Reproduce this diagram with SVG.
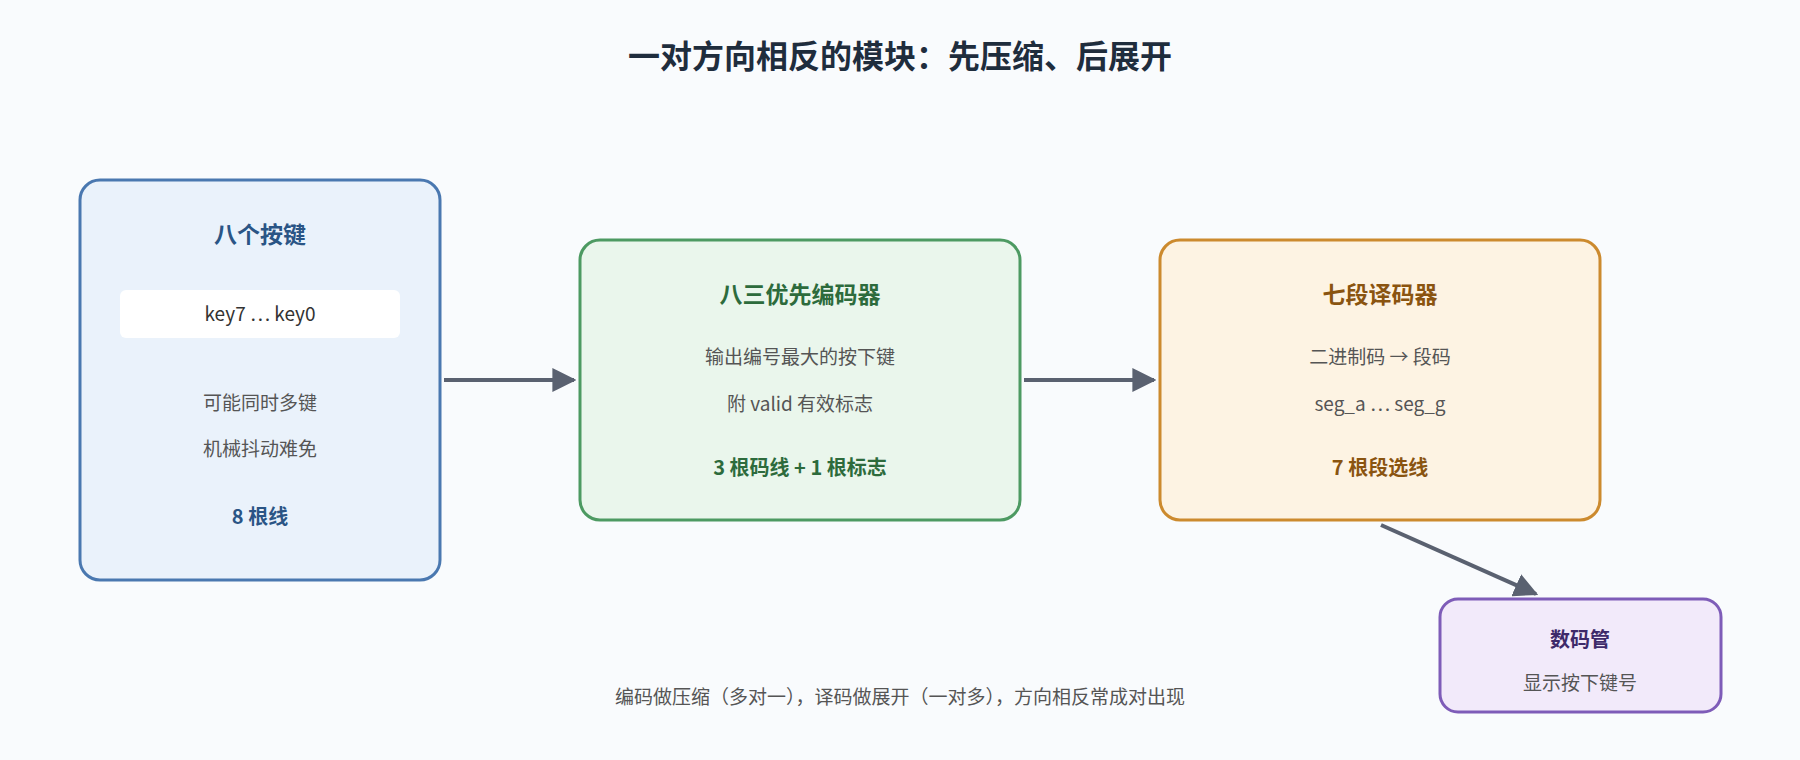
<svg xmlns="http://www.w3.org/2000/svg" width="1800" height="760" viewBox="0 0 1800 760">
<defs>
<marker id="ah" viewBox="0 0 10 10" refX="9" refY="5" markerWidth="6" markerHeight="6" markerUnits="strokeWidth" orient="auto"><path d="M0,0 L10,5 L0,10 z" fill="#5a6170"/></marker>
<style>
text{font-family:"Noto Sans CJK SC","Noto Sans",sans-serif;text-anchor:middle}
.t{font-size:23px;font-weight:bold}
.b{font-size:19px;fill:#555}
.k{font-size:20px;font-weight:bold}
.c{stroke:#5a6170;stroke-width:4;fill:none;marker-end:url(#ah)}
</style>
</defs>
<rect width="1800" height="760" fill="#f9fbfd"/>
<text x="900" y="68" style="font-size:32px;font-weight:bold" fill="#1f2d3d">一对方向相反的模块：先压缩、后展开</text>
<g id="connectors">
<line class="c" x1="444" y1="380" x2="574" y2="380"/>
<line class="c" x1="1024" y1="380" x2="1154" y2="380"/>
<line class="c" x1="1381" y1="525" x2="1536" y2="594"/>
</g>
<g id="keys">
<rect x="80" y="180" width="360" height="400" rx="20" fill="#eaf2fb" stroke="#4a78b0" stroke-width="3"/>
<text x="260" y="243" class="t" fill="#2a5585">八个按键</text>
<rect x="120" y="290" width="280" height="48" rx="6" fill="#fff"/>
<text x="260" y="321" class="b" fill="#333" style="fill:#333">key7 … key0</text>
<text x="260" y="410" class="b">可能同时多键</text>
<text x="260" y="456" class="b">机械抖动难免</text>
<text x="260" y="524" class="k" fill="#2a5585">8 根线</text>
</g>
<g id="encoder">
<rect x="580" y="240" width="440" height="280" rx="20" fill="#eaf6ec" stroke="#4d9a62" stroke-width="3"/>
<text x="800" y="303" class="t" fill="#2d6b3c">八三优先编码器</text>
<text x="800" y="364" class="b">输出编号最大的按下键</text>
<text x="800" y="411" class="b">附 valid 有效标志</text>
<text x="800" y="475" class="k" fill="#2d6b3c">3 根码线 + 1 根标志</text>
</g>
<g id="decoder">
<rect x="1160" y="240" width="440" height="280" rx="20" fill="#fdf3e3" stroke="#cc8a2e" stroke-width="3"/>
<text x="1380" y="303" class="t" fill="#8a5410">七段译码器</text>
<text x="1380" y="364" class="b">二进制码 → 段码</text>
<text x="1380" y="411" class="b">seg_a … seg_g</text>
<text x="1380" y="475" class="k" fill="#8a5410">7 根段选线</text>
</g>
<g id="display">
<rect x="1440" y="599" width="281" height="113" rx="18" fill="#f2eafa" stroke="#7e5cb8" stroke-width="3"/>
<text x="1580" y="647" class="k" fill="#3e2a6a">数码管</text>
<text x="1580" y="690" class="b">显示按下键号</text>
</g>
<text x="900" y="704" class="b">编码做压缩（多对一），译码做展开（一对多），方向相反常成对出现</text>
</svg>
